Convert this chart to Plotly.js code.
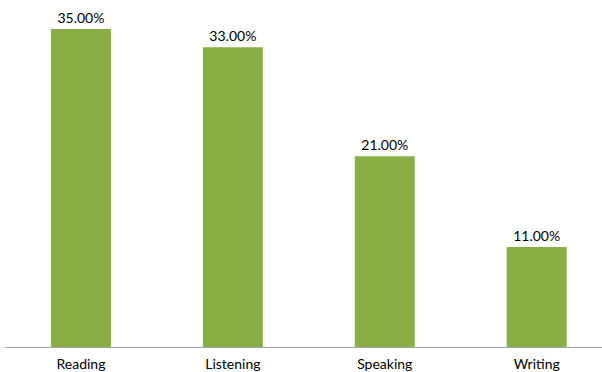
<!DOCTYPE html>
<html>
<head>
<meta charset="utf-8">
<script src="https://cdn.plot.ly/plotly-3.0.1.min.js"></script>
<style>html,body{margin:0;padding:0;background:#fff;}#chart{width:602px;height:372px;}</style>
</head>
<body>
<div id="chart"></div>
<script>
const categories = ["Reading", "Listening", "Speaking", "Writing"];
const values = [35, 33, 21, 11];

const trace = {
  type: "bar",
  x: categories,
  y: values,
  marker: { color: "#89ae43", line: { width: 0 } },
  texttemplate: "%{y:.2f}%",
  textposition: "outside",
  cliponaxis: false,
  textfont: { family: "Lato, 'Open Sans', sans-serif", size: 14, color: "#000" },
  hoverinfo: "none"
};

const layout = {
  width: 602,
  height: 372,
  margin: { l: 5, r: 0, t: 0, b: 25 },
  paper_bgcolor: "#fff",
  plot_bgcolor: "#fff",
  bargap: 0.605,
  showlegend: false,
  xaxis: {
    range: [-0.5, 3.43],
    showline: true,
    linecolor: "#a6a6a6",
    linewidth: 1,
    ticks: "",
    ticklabelstandoff: 4,
    showgrid: false,
    zeroline: false,
    tickfont: { family: "Lato, 'Open Sans', sans-serif", size: 14, color: "#000" }
  },
  yaxis: {
    range: [0, 38.2],
    visible: false,
    showgrid: false,
    zeroline: false
  }
};

Plotly.newPlot("chart", [trace], layout, { displayModeBar: false, staticPlot: true });
</script>
</body>
</html>
